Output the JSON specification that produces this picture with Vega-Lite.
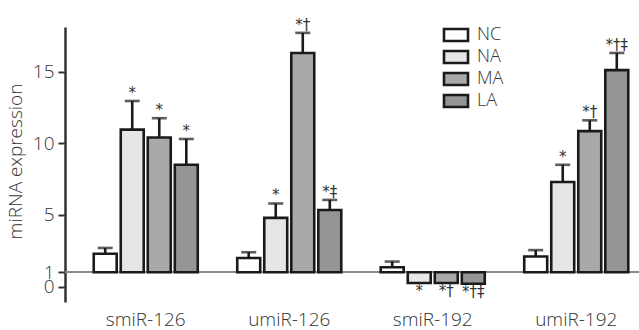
{
  "$schema": "https://vega.github.io/schema/vega-lite/v6.json",
  "width": 574,
  "height": 275,
  "autosize": {"type": "none"},
  "padding": {"left": 65, "top": 27, "right": 0, "bottom": 28},
  "background": "white",
  "config": {
    "view": {"stroke": null},
    "font": "Open Sans",
    "axis": {"labelFont": "Open Sans", "titleFont": "Open Sans", "labelFontWeight": 300, "titleFontWeight": 300, "labelColor": "#333", "titleColor": "#333"},
    "legend": {"labelFont": "Open Sans", "labelFontWeight": 300}
  },
  "data": {
    "values": [
      {"miRNA": "smiR-126", "group": "NC", "value": 2.3, "err": 2.7, "sig": ""},
      {"miRNA": "smiR-126", "group": "NA", "value": 10.95, "err": 12.95, "sig": "*"},
      {"miRNA": "smiR-126", "group": "MA", "value": 10.4, "err": 11.75, "sig": "*"},
      {"miRNA": "smiR-126", "group": "LA", "value": 8.5, "err": 10.3, "sig": "*"},
      {"miRNA": "umiR-126", "group": "NC", "value": 2.0, "err": 2.4, "sig": ""},
      {"miRNA": "umiR-126", "group": "NA", "value": 4.8, "err": 5.8, "sig": "*"},
      {"miRNA": "umiR-126", "group": "MA", "value": 16.3, "err": 17.7, "sig": "*†"},
      {"miRNA": "umiR-126", "group": "LA", "value": 5.35, "err": 6.05, "sig": "*‡"},
      {"miRNA": "smiR-192", "group": "NC", "value": 1.35, "err": 1.75, "sig": ""},
      {"miRNA": "smiR-192", "group": "NA", "value": 0.25, "err": null, "sig": "*"},
      {"miRNA": "smiR-192", "group": "MA", "value": 0.25, "err": null, "sig": "*†"},
      {"miRNA": "smiR-192", "group": "LA", "value": 0.2, "err": null, "sig": "*†‡"},
      {"miRNA": "umiR-192", "group": "NC", "value": 2.1, "err": 2.55, "sig": ""},
      {"miRNA": "umiR-192", "group": "NA", "value": 7.3, "err": 8.5, "sig": "*"},
      {"miRNA": "umiR-192", "group": "MA", "value": 10.85, "err": 11.6, "sig": "*†"},
      {"miRNA": "umiR-192", "group": "LA", "value": 15.1, "err": 16.3, "sig": "*†‡"}
    ]
  },
  "encoding": {
    "x": {
      "field": "miRNA", "type": "nominal",
      "sort": ["smiR-126", "umiR-126", "smiR-192", "umiR-192"],
      "scale": {"range": [9, 583], "paddingInner": 0.275, "paddingOuter": 0.1375},
      "axis": {"title": null, "domain": false, "ticks": false, "labelAngle": 0, "labelFontSize": 19, "labelBaseline": "alphabetic", "labelPadding": 23}
    },
    "xOffset": {
      "field": "group", "type": "nominal",
      "sort": ["NC", "NA", "MA", "LA"],
      "scale": {"paddingInner": 0.15, "paddingOuter": 0}
    }
  },
  "layer": [
    {
      "mark": {"type": "rule", "color": "#8a8a8a", "strokeWidth": 1.5},
      "encoding": {"x": null, "xOffset": null, "y": {"datum": 1, "type": "quantitative"}}
    },
    {
      "mark": {"type": "bar", "stroke": "#1a1a1a", "strokeWidth": 2.6, "opacity": 1},
      "encoding": {
        "y": {
          "field": "value", "type": "quantitative",
          "scale": {"domain": [-1.07, 18.11], "nice": false, "zero": false},
          "axis": {
            "values": [0, 1, 5, 10, 15], "grid": false, "title": "miRNA expression",
            "titleFontSize": 19, "labelFontSize": 19, "labelOverlap": false, "labelFlush": false,
            "domainColor": "#333", "domainWidth": 2.5, "tickColor": "#333", "tickWidth": 2, "tickSize": 7,
            "labelPadding": 4, "titleY": 134, "titlePadding": 7
          }
        },
        "y2": {"datum": 1},
        "fill": {
          "field": "group", "type": "nominal",
          "sort": ["NC", "NA", "MA", "LA"],
          "scale": {"domain": ["NC", "NA", "MA", "LA"], "range": ["#ffffff", "#e6e6e6", "#a9a9a9", "#959595"]},
          "legend": {
            "title": null, "orient": "none", "legendX": 382, "legendY": -1, "padding": 0,
            "symbolType": "M-2,-1H2V1H-2Z", "symbolSize": 144, "symbolStrokeColor": "#1a1a1a", "symbolStrokeWidth": 2.6,
            "labelFontSize": 18, "labelColor": "#333", "labelOffset": 12, "rowPadding": -2
          }
        }
      }
    },
    {
      "mark": {"type": "rule", "color": "#1a1a1a", "strokeWidth": 2.6},
      "encoding": {
        "y": {"field": "value", "type": "quantitative"},
        "y2": {"field": "err"}
      }
    },
    {
      "mark": {"type": "tick", "color": "#1a1a1a", "thickness": 2.6, "size": 15, "orient": "horizontal"},
      "transform": [{"filter": "datum.err != null"}],
      "encoding": {
        "y": {"field": "err", "type": "quantitative"}
      }
    },
    {
      "transform": [{"filter": "datum.err != null"}],
      "mark": {"type": "text", "fontSize": 15, "font": "DejaVu Sans", "color": "#333", "baseline": "alphabetic", "dy": -3},
      "encoding": {
        "y": {"field": "err", "type": "quantitative"},
        "text": {"field": "sig"}
      }
    },
    {
      "transform": [{"filter": "datum.err == null"}],
      "mark": {"type": "text", "fontSize": 15, "font": "DejaVu Sans", "color": "#333", "baseline": "top", "dy": 1},
      "encoding": {
        "y": {"field": "value", "type": "quantitative"},
        "text": {"field": "sig"}
      }
    }
  ]
}
